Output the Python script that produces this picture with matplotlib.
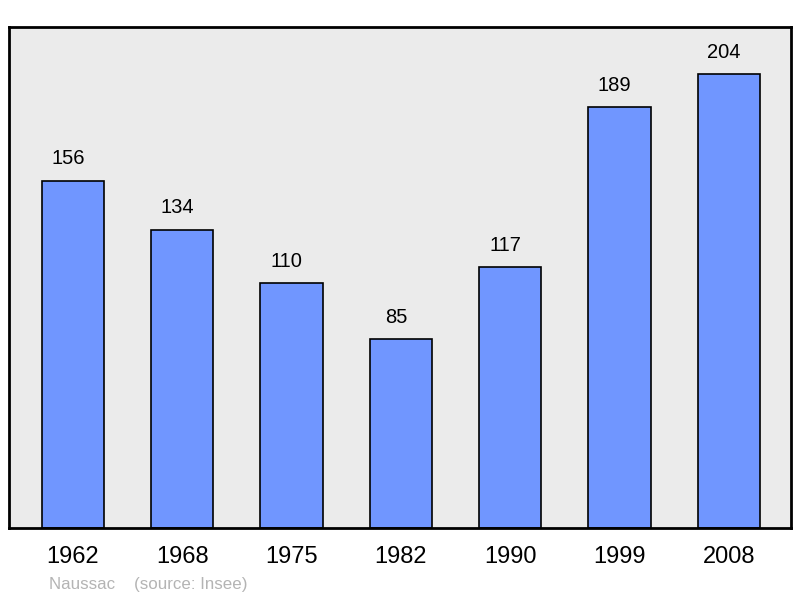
# Population bar chart - Naussac
import numpy as np
import matplotlib.pyplot as plt

plt.rcParams['font.family'] = ['Liberation Sans', 'DejaVu Sans']

# Data
years = ['1962', '1968', '1975', '1982', '1990', '1999', '2008']
population = [156, 134, 110, 85, 117, 189, 204]

fig = plt.figure(figsize=(8, 5.98), dpi=100)
ax = fig.add_axes([9/800, 70/598, 782/800, 501/598])
ax.set_facecolor('#ebebeb')

x = np.arange(len(years))
ax.bar(x, population, width=0.57, color='#7096ff', edgecolor='black', linewidth=1.2, zorder=2)

# value labels above bars
for xi, v in zip(x, population):
    ax.annotate(str(v), (xi, v), xytext=(-3.5, 8.8), textcoords='offset points',
                ha='center', va='bottom', fontsize=14.5)

ax.set_xlim(-0.585, 6.57)
ax.set_ylim(0, 225)
ax.set_xticks(x)
ax.set_xticklabels(years, fontsize=17)
ax.tick_params(axis='x', length=0, pad=13)
ax.set_yticks([])
for s in ax.spines.values():
    s.set_linewidth(2)

fig.text(49/800, 1 - 584/598, 'Naussac    (source: Insee)', color='#b4b4b4',
         fontsize=12.2, va='center', ha='left')

fig.savefig('out.png', dpi=100)
